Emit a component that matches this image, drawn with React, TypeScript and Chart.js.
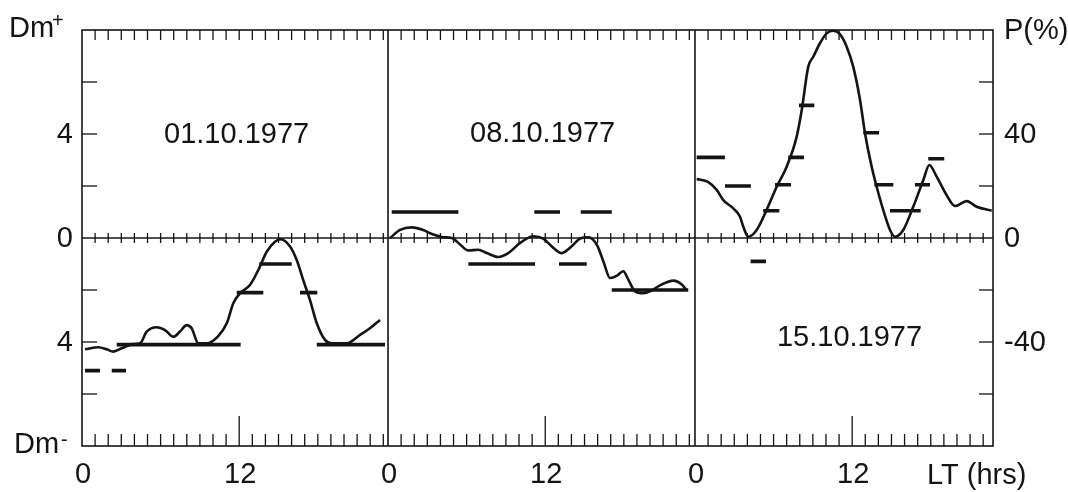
import React, { useEffect, useRef } from "react";
import { Chart, registerables } from "chart.js";

Chart.register(...registerables);

// ---------------- data ----------------
const panelDates = ["01.10.1977", "08.10.1977", "15.10.1977"];
const xTickLocalHours = [0, 12];
const xTickLabels = ["0", "12"];
const dmTickValues = [4, 0, -4];
const dmTickLabels = ["4", "0", "4"];
const pTickValues = [40, 0, -40];
const pTickLabels = ["40", "0", "-40"];
const dmTickMarks = [6, 4, 2, -2, -4, -6];
const pTickMarks = [60, 40, 20, -20, -40, -60];

// P(%) curves, local time (hours) within each day
const p1Hours = [0.23, 1.24, 1.89, 2.39, 3.03, 3.92, 4.43, 4.94, 5.7, 6.34, 6.97, 7.48, 7.99, 8.37, 8.88, 9.52, 10.4, 11.05, 11.55, 12.06, 12.82, 13.46, 14.1, 14.73, 15.17, 15.88, 16.39, 16.89, 17.4, 17.92, 18.55, 19.06, 20.21, 21.22, 21.98, 22.75];
const p1Values = [-42.8, -42.0, -42.8, -43.7, -42.4, -40.8, -40.5, -36.0, -34.3, -35.4, -38.0, -36.0, -33.5, -34.7, -40.5, -40.5, -37.7, -32.8, -25.1, -21.3, -18.1, -12.3, -5.3, -1.4, -0.5, -3.3, -8.5, -16.2, -23.8, -32.8, -39.2, -40.5, -40.5, -37.3, -34.7, -31.5];

const p2Hours = [0.15, 0.92, 1.81, 2.69, 3.21, 4.22, 4.86, 5.5, 6.13, 6.89, 7.53, 8.42, 9.18, 10.08, 11.09, 11.85, 12.62, 13.26, 14.02, 14.66, 15.29, 15.93, 16.44, 16.95, 17.45, 17.96, 18.34, 18.85, 19.49, 20.0, 20.76, 21.78, 22.42, 22.8];
const p2Values = [0, 3.1, 4.1, 3.1, 1.8, 0.3, 0, -2.5, -4.8, -4.5, -5.8, -7.3, -5.8, -1.9, 0.7, -0.2, -3.8, -5.8, -3.2, -0.2, 0.3, -2.5, -9.0, -15.4, -14.6, -12.8, -16.0, -20.5, -21.2, -20.5, -18.2, -16.4, -17.9, -20.2];

const p3Hours = [0.13, 1.02, 1.66, 2.16, 2.92, 3.44, 3.69, 4.07, 4.71, 5.47, 6.24, 7.0, 7.76, 8.15, 8.65, 9.03, 9.54, 10.05, 10.55, 11.05, 11.58, 12.08, 12.6, 12.98, 13.49, 13.87, 14.37, 14.89, 15.27, 15.9, 16.66, 17.43, 17.89, 18.45, 19.21, 19.85, 20.74, 21.5, 22.65];
const p3Values = [22.7, 21.5, 18.5, 14.6, 11.4, 8.2, 4.3, 0.5, 3.1, 10.8, 19.7, 27.4, 38.9, 49.2, 65.9, 69.7, 74.9, 78.7, 79.7, 78.5, 73.6, 65.9, 53.1, 40.3, 27.4, 19.7, 10.8, 3.1, 0.5, 3.1, 12.0, 22.3, 28.1, 23.6, 16.5, 12.3, 14.2, 12.0, 10.5];

// Dm bars: start hour, end hour, value (negative = Dm-)
const p1BarStart = [0.23, 2.27, 2.65, 11.81, 13.53, 16.64, 17.92];
const p1BarEnd = [1.37, 3.36, 12.11, 13.84, 16.01, 17.96, 23.13];
const p1BarDm = [-5.1, -5.1, -4.1, -2.1, -1.0, -2.1, -4.1];

const p2BarStart = [0.28, 11.17, 14.71, 6.13, 13.05, 17.08];
const p2BarEnd = [5.37, 13.13, 17.08, 11.22, 15.17, 22.92];
const p2BarDm = [1.0, 1.0, 1.0, -1.0, -1.0, -2.0];

const p3BarStart = [0.13, 2.29, 5.21, 6.11, 7.12, 7.94, 12.85, 13.69, 14.89, 16.79, 17.81, 4.25];
const p3BarEnd = [2.29, 4.27, 6.44, 7.33, 8.32, 9.11, 14.05, 15.14, 17.23, 17.94, 19.03, 5.42];
const p3BarDm = [3.1, 2.0, 1.05, 2.05, 3.1, 5.1, 4.05, 2.05, 1.05, 2.05, 3.05, -0.9];

// ---------------- layout ----------------
const INK = "#141414";
const FONT = "'Liberation Sans', Arial, Helvetica, sans-serif";
const panelStartHours = [0, 23.36, 46.79];
const axisMaxHours = 69.54;
const dateLabelHour = 11.8;
const dateLabelDm = [4.0, 4.05, -3.8];

function curveDataset(panel: number, hours: number[], values: number[]) {
  return {
    data: hours.map((h, i) => ({ x: panelStartHours[panel] + h, y: values[i] })),
    yAxisID: "y2",
    borderColor: INK,
    borderWidth: 2.6,
    pointRadius: 0,
    cubicInterpolationMode: "monotone" as const,
    fill: false,
    clip: 6,
  };
}

function barDataset(panel: number, starts: number[], ends: number[], values: number[]) {
  const off = panelStartHours[panel];
  return {
    data: starts.flatMap((s, i) => [
      { x: off + s, y: values[i] },
      { x: off + ends[i], y: values[i] },
      { x: off + ends[i], y: null as any },
    ]),
    yAxisID: "y",
    borderColor: INK,
    borderWidth: 3.6,
    borderCapStyle: "butt" as const,
    pointRadius: 0,
    tension: 0,
    spanGaps: false,
    fill: false,
    clip: 6,
  };
}

const framePlugin = {
  id: "framePlugin",
  beforeDatasetsDraw(chart: any) {
    const { ctx, chartArea: a, scales } = chart;
    const x = scales.x, y = scales.y, y2 = scales.y2;
    const line = (x1: number, y1: number, x2: number, y2p: number) => {
      ctx.beginPath();
      ctx.moveTo(x1, y1);
      ctx.lineTo(x2, y2p);
      ctx.stroke();
    };
    ctx.save();
    ctx.strokeStyle = INK;
    ctx.lineWidth = 1.6;
    ctx.strokeRect(a.left, a.top, a.right - a.left, a.bottom - a.top);
    const y0 = y.getPixelForValue(0);
    line(a.left, y0, a.right, y0);
    panelStartHours.slice(1).forEach((h) => {
      const px = x.getPixelForValue(h);
      line(px, a.top, px, a.bottom);
    });
    ctx.lineWidth = 1.3;
    panelStartHours.forEach((s, i) => {
      const end = i + 1 < panelStartHours.length ? panelStartHours[i + 1] : axisMaxHours;
      for (let h = 1; s + h < end - 0.3; h++) {
        const px = x.getPixelForValue(s + h);
        line(px, a.top, px, a.top + 10);
        line(px, y0 - 5, px, y0 + 5);
        line(px, a.bottom, px, a.bottom - (h === 12 ? 30 : 12));
      }
    });
    dmTickMarks.forEach((v) => {
      const py = y.getPixelForValue(v);
      line(a.left, py, a.left + 15, py);
    });
    pTickMarks.forEach((v) => {
      const py = y2.getPixelForValue(v);
      line(a.right, py, a.right - 14, py);
    });
    ctx.restore();
  },
  afterDraw(chart: any) {
    const { ctx, chartArea: a, scales } = chart;
    const x = scales.x, y = scales.y, y2 = scales.y2;
    ctx.save();
    ctx.fillStyle = INK;
    ctx.font = `29px ${FONT}`;
    // left Dm ticks
    ctx.textAlign = "right";
    ctx.textBaseline = "middle";
    dmTickValues.forEach((v, i) => ctx.fillText(dmTickLabels[i], a.left - 9, y.getPixelForValue(v) + 1));
    // right P ticks
    ctx.textAlign = "left";
    pTickValues.forEach((v, i) => ctx.fillText(pTickLabels[i], a.right + 11, y2.getPixelForValue(v) + 1));
    // bottom hour labels
    ctx.textAlign = "center";
    ctx.textBaseline = "alphabetic";
    panelStartHours.forEach((s) => {
      xTickLocalHours.forEach((h, i) => ctx.fillText(xTickLabels[i], x.getPixelForValue(s + h) + 1, a.bottom + 37));
    });
    ctx.textAlign = "left";
    ctx.fillText("LT (hrs)", 927, a.bottom + 38);
    // axis titles
    ctx.fillText("Dm", 9, 37);
    ctx.fillText("Dm", 14, a.bottom + 7);
    ctx.fillText("P(%)", a.right + 11, 39);
    ctx.font = `20px ${FONT}`;
    ctx.fillText("+", 52, 27);
    ctx.fillText("-", 61, a.bottom);
    // date labels
    ctx.font = `29px ${FONT}`;
    ctx.textAlign = "center";
    ctx.textBaseline = "middle";
    panelDates.forEach((d, i) => {
      ctx.fillText(d, x.getPixelForValue(panelStartHours[i] + dateLabelHour), y.getPixelForValue(dateLabelDm[i]) + 1);
    });
    ctx.restore();
  },
};

export default function App() {
  const ref = useRef<HTMLCanvasElement | null>(null);
  useEffect(() => {
    document.body.style.margin = "0";
    const canvas = ref.current;
    if (!canvas) return;
    const chart = new Chart(canvas, {
      type: "line",
      data: {
        datasets: [
          curveDataset(0, p1Hours, p1Values),
          curveDataset(1, p2Hours, p2Values),
          curveDataset(2, p3Hours, p3Values),
          barDataset(0, p1BarStart, p1BarEnd, p1BarDm),
          barDataset(1, p2BarStart, p2BarEnd, p2BarDm),
          barDataset(2, p3BarStart, p3BarEnd, p3BarDm),
        ] as any,
      },
      options: {
        animation: false,
        responsive: false,
        devicePixelRatio: 1,
        layout: { padding: { left: 82, top: 30, right: 75, bottom: 46 } },
        plugins: { legend: { display: false }, tooltip: { enabled: false } },
        scales: {
          x: { type: "linear", min: 0, max: axisMaxHours, display: false },
          y: { type: "linear", min: -8, max: 8, display: false },
          y2: { type: "linear", min: -80, max: 80, display: false },
        },
      },
      plugins: [framePlugin],
    });
    return () => chart.destroy();
  }, []);
  return (
    <div style={{ width: 1068, height: 492, background: "#fff" }}>
      <canvas ref={ref} width={1068} height={492} style={{ display: "block" }} />
    </div>
  );
}
